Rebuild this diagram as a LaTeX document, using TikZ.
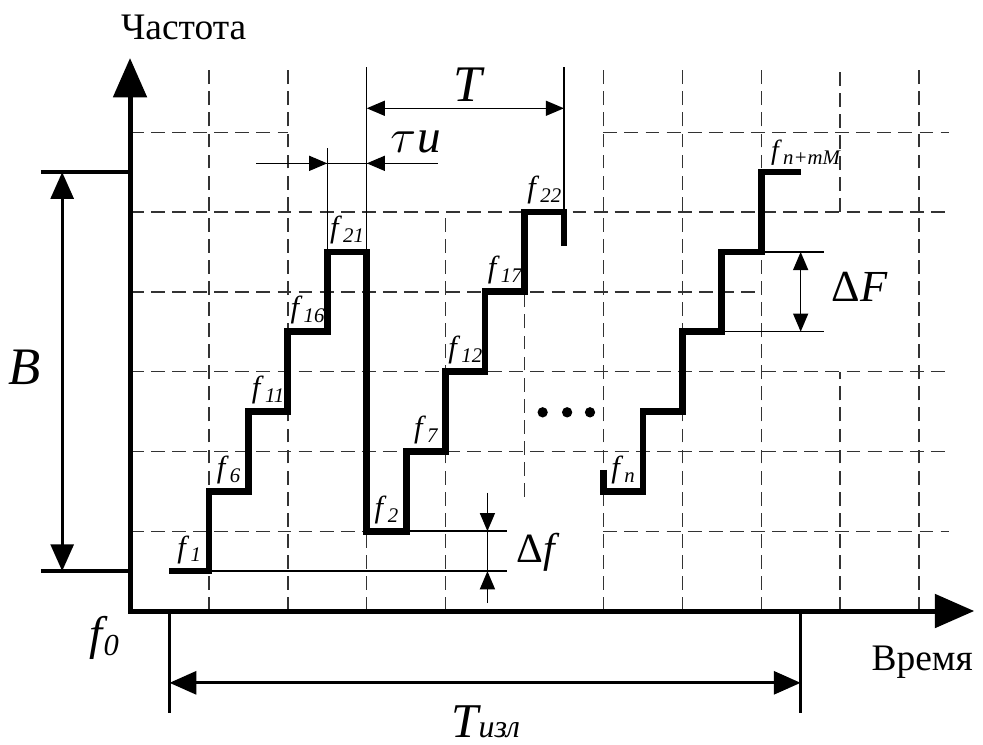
\documentclass[tikz,border=0pt]{standalone}
\usepackage{fontspec}
\setmainfont{Liberation Serif}
\usetikzlibrary{arrows.meta}

\newcommand{\fsub}[1]{\textit{f}\kern.4pt\raisebox{-.35ex}{\fontsize{7.5}{8}\selectfont\itshape #1}}

\begin{document}
\begin{tikzpicture}[
                x=1cm, y=1.0114cm,
                grid/.style={black!80, line width=0.5pt, dash pattern=on 5pt off 2.6pt},
                fine/.style={black, line width=0.55pt},
                dimline/.style={black, line width=1.2pt},
                stair/.style={black, line width=2.4pt, line join=miter},
                axis/.style={black, line width=1.8pt, line join=miter, {Triangle[length=0.5cm, width=0.42cm]}-{Triangle[length=0.5cm, width=0.42cm]}},
                bigdim/.style={dimline, {Triangle[length=0.34cm, width=0.29cm]}-{Triangle[length=0.34cm, width=0.29cm]}},
                smalldim/.style={fine, {Triangle[length=0.23cm, width=0.19cm]}-{Triangle[length=0.23cm, width=0.19cm]}},
                smallarr/.style={fine, -{Triangle[length=0.23cm, width=0.19cm]}},
                flabel/.style={font=\fontsize{11}{11}\selectfont, inner sep=0pt}
            ]
                \useasboundingbox (-1.648,-1.679) rectangle (10.811,7.657);

                % Grid
                \foreach \x in {1,2,6,7,8,10}
                    \draw[grid] (\x,0) -- (\x,6.82);
                \draw[grid] (3,0) -- (3,1);
                \draw[grid] (4,0) -- (4,5);
                \draw[grid] (5,1.43) -- (5,5);
                \draw[grid] (9,0) -- (9,3) (9,5) -- (9,6.82);
                \foreach \y in {2,3,5}
                    \draw[grid] (0,\y) -- (10.38,\y);
                \draw[grid] (0,1) -- (3,1) (6,1) -- (10.38,1);
                \draw[grid] (0,4) -- (8,4);
                \draw[grid] (0,6) -- (2,6) (6,6) -- (10.38,6);

                % Reference lines
                \draw[fine] (1,0.5) -- (4.78,0.5);
                \draw[fine] (3.5,1) -- (4.78,1);
                \draw[fine] (2.5,4.5) -- (2.5,5.8);
                \draw[fine] (3,4.5) -- (3,6.82);
                \draw[fine] (5.5,5) -- (5.5,6.82);
                \draw[fine] (8,4.5) -- (8.8,4.5);
                \draw[fine] (7.5,3.5) -- (8.8,3.5);

                % Frequency steps
                \draw[stair] (0.5,0.5) -| (1,1.5) -| (1.5,2.5) -| (2,3.5) -| (2.5,4.5) -| (3,1)
                    -| (3.5,2) -| (4,3) -| (4.5,4) -| (5,5) -| (5.5,4.57);
                \draw[stair] (6,1.77) -- (6,1.5) -| (6.5,2.5) -| (7,3.5) -| (7.5,4.5) -| (8,5.5) -- (8.5,5.5);
                \foreach \x in {5.23,5.54,5.83}
                    \fill (\x,2.49) circle (0.065);

                % Axes
                \draw[axis] (0,6.93) -- (0,0) -- (10.7,0);
                \node[font=\fontsize{13.5}{14}\selectfont] (freq) at (0.68,7.31) {Частота};
                \node[font=\fontsize{13.5}{14}\selectfont] (time) at (10.04,-0.64) {Время};
                \node[font=\fontsize{17}{17}\selectfont\itshape] (f0) at (-0.33,-0.34) {f\kern.5pt\raisebox{-.25ex}{\fontsize{11}{11}\selectfont 0}};

                % Dimension B
                \coordinate (Btop) at (-1.13,5.5);
                \coordinate (Bbot) at (-1.13,0.5);
                \draw[dimline] (Btop) -- (0,5.5);
                \draw[dimline] (Bbot) -- (0,0.5);
                \draw[bigdim] (-0.86,5.5) -- (-0.86,0.5);
                \node[font=\fontsize{19}{19}\selectfont\itshape] (B) at (-1.33,3.05) {B};

                % Dimension T_izl
                \coordinate (Ta) at (0.5,-1.28);
                \coordinate (Tb) at (8.5,-1.28);
                \draw[dimline] (0.5,0) -- (Ta);
                \draw[dimline] (8.5,0) -- (Tb);
                \draw[bigdim] (0.5,-0.9) -- (8.5,-0.9);
                \node[anchor=base, inner sep=0pt] (Tizl) at (4.51,-1.58)
                    {\fontsize{17.5}{18}\selectfont\itshape T\fontsize{11.5}{12}\selectfont изл};

                % Dimension T and tau
                \draw[smalldim] (3,6.3) -- (5.5,6.3);
                \node[font=\fontsize{18.5}{19}\selectfont\itshape] (T) at (4.28,6.59) {T};
                \draw[fine] (1.6,5.61) -- (3.9,5.61);
                \draw[smallarr] (1.6,5.61) -- (2.5,5.61);
                \draw[smallarr] (3.9,5.61) -- (3,5.61);
                \node[font=\fontsize{17}{17}\selectfont] (tau) at (3.62,5.88) {$\tau$\kern.5pt\textit{u}};

                % Dimension delta F
                \draw[smalldim] (8.5,4.5) -- (8.5,3.5);
                \node[font=\fontsize{16}{16}\selectfont] (dF) at (9.25,4.06) {Δ\textit{F}};

                % Dimension delta f
                \draw[fine] (4.53,1.48) -- (4.53,0.1);
                \draw[smallarr] (4.53,1.48) -- (4.53,1);
                \draw[smallarr] (4.53,0.1) -- (4.53,0.5);
                \node[font=\fontsize{15}{15}\selectfont] (df) at (5.17,0.74) {Δ\textit{f}};

                % Step labels
                \foreach \x/\y/\n in {0.5/0.5/1, 1/1.5/6, 1.5/2.5/11, 2/3.5/16, 2.5/4.5/21, 3/1/2, 3.5/2/7, 4/3/12, 4.5/4/17, 5/5/22, 6/1.5/n}
                    \node[flabel] (f\n) at (\x+0.25,\y+0.27) {\fsub{\n}};
                \node[flabel, anchor=west, font=\fontsize{10}{10}\selectfont] (fnmM) at (8.12,5.74) {\fsub{n+mM}};
            \end{tikzpicture}
\end{document}
